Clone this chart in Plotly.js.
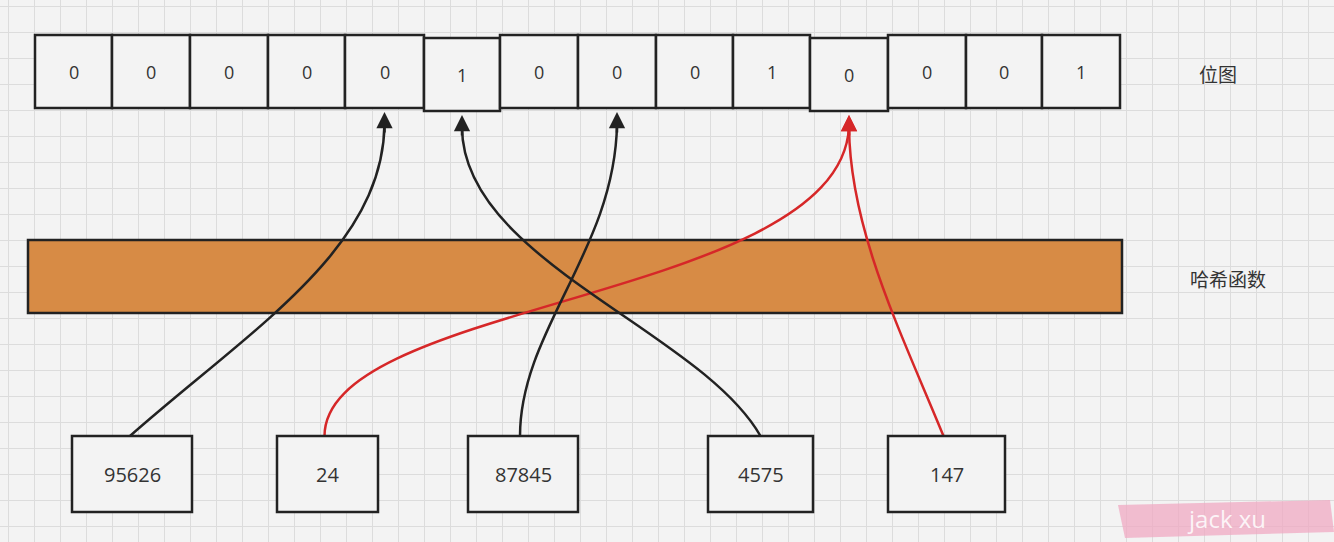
<!DOCTYPE html>
<html>
<head>
<meta charset="utf-8">
<script src="https://cdn.plot.ly/plotly-3.0.1.min.js"></script>
<style>body{margin:0;background:#f3f3f3}</style>
</head>
<body>
<div id="chart" style="width:1334px;height:542px"></div>
<script>
// bitmap row
const bits = [0, 0, 0, 0, 0, 1, 0, 0, 0, 1, 0, 0, 0, 1];
const cellEdges = [35, 112, 190, 268, 345, 424, 500, 578, 656, 733, 810, 888, 966, 1042, 1120];
const cellDrop = [0, 0, 0, 0, 0, 3, 0, 0, 0, 0, 3, 0, 0, 0];

// keys fed into the hash function
const keys = ["95626", "24", "87845", "4575", "147"];
const keyLeft = [72, 277, 468, 708, 888];
const keyRight = [192, 378, 578, 813, 1005];
const keyTarget = [4, 10, 7, 5, 10];
const keyColor = ["#222", "#d62728", "#222", "#222", "#d62728"];
// bezier control points for each arrow (pixel space)
const ctrl = [
  [[250, 330], [383, 250]],
  [[325, 300], [840, 300]],
  [[520, 330], [615, 250]],
  [[700, 330], [462, 260]],
  [[900, 330], [850, 230]],
];

const shapes = [];
const annotations = [];
const cellMid = i => (cellEdges[i] + cellEdges[i + 1]) / 2;

bits.forEach((b, i) => {
  const y0 = 35 + cellDrop[i];
  shapes.push({type: "rect", x0: cellEdges[i], x1: cellEdges[i + 1], y0: y0, y1: y0 + 73,
    line: {color: "#222", width: 2.5}, fillcolor: "#f3f3f3"});
  annotations.push({x: cellMid(i), y: y0 + 37, text: String(b), showarrow: false,
    font: {size: 18, color: "#333"}});
});

shapes.push({type: "rect", x0: 28, x1: 1122, y0: 240, y1: 313,
  line: {color: "#222", width: 2.5}, fillcolor: "#d78b45"});

keys.forEach((k, i) => {
  const sx = (keyLeft[i] + keyRight[i]) / 2 + (i === 0 ? -2 : i === 3 ? 0 : -3);
  const t = keyTarget[i];
  const tipY = 112 + cellDrop[t];
  const tx = cellMid(t);
  const c = ctrl[i];
  shapes.push({type: "path", layer: "above",
    path: `M ${sx} 436 C ${c[0][0]} ${c[0][1]} ${c[1][0]} ${c[1][1]} ${tx} ${tipY + 12}`,
    line: {color: keyColor[i], width: 2.5}});
  annotations.push({x: tx, y: tipY, ax: tx, ay: tipY + 22, axref: "x", ayref: "y",
    xref: "x", yref: "y", text: "", showarrow: true, arrowhead: 2, arrowsize: 1.3,
    arrowwidth: 2.5, arrowcolor: keyColor[i], standoff: 0});
  shapes.push({type: "rect", x0: keyLeft[i], x1: keyRight[i], y0: 436, y1: 512,
    line: {color: "#222", width: 2.5}, fillcolor: "#f3f3f3"});
  annotations.push({x: (keyLeft[i] + keyRight[i]) / 2, y: 474, text: k, showarrow: false,
    font: {size: 20, color: "#333"}});
});

annotations.push({x: 1218, y: 73, text: "位图", showarrow: false,
  font: {size: 19, color: "#333", family: "Noto Sans CJK SC"}});
annotations.push({x: 1228, y: 278, text: "哈希函数", showarrow: false,
  font: {size: 19, color: "#333", family: "Noto Sans CJK SC"}});

// watermark
shapes.push({type: "path", path: "M 1118 505 L 1330 500 L 1334 532 L 1125 538 Z",
  fillcolor: "rgba(240,170,195,0.75)", line: {width: 0}});
annotations.push({x: 1226, y: 518, text: "jack xu", showarrow: false,
  font: {size: 24, color: "rgba(255,255,255,0.85)"}});

const axis = {showgrid: true, gridcolor: "#dcdcdc", dtick: 26, zeroline: false,
  showticklabels: false, ticks: "", showline: false, fixedrange: true};

Plotly.newPlot("chart", [], {
  width: 1334, height: 542,
  margin: {l: 0, r: 0, t: 0, b: 0},
  paper_bgcolor: "#f3f3f3", plot_bgcolor: "#f3f3f3",
  xaxis: Object.assign({range: [0, 1334], tick0: 8}, axis),
  yaxis: Object.assign({range: [542, 0], tick0: 6}, axis),
  shapes: shapes, annotations: annotations, showlegend: false,
}, {staticPlot: true});
</script>
</body>
</html>
